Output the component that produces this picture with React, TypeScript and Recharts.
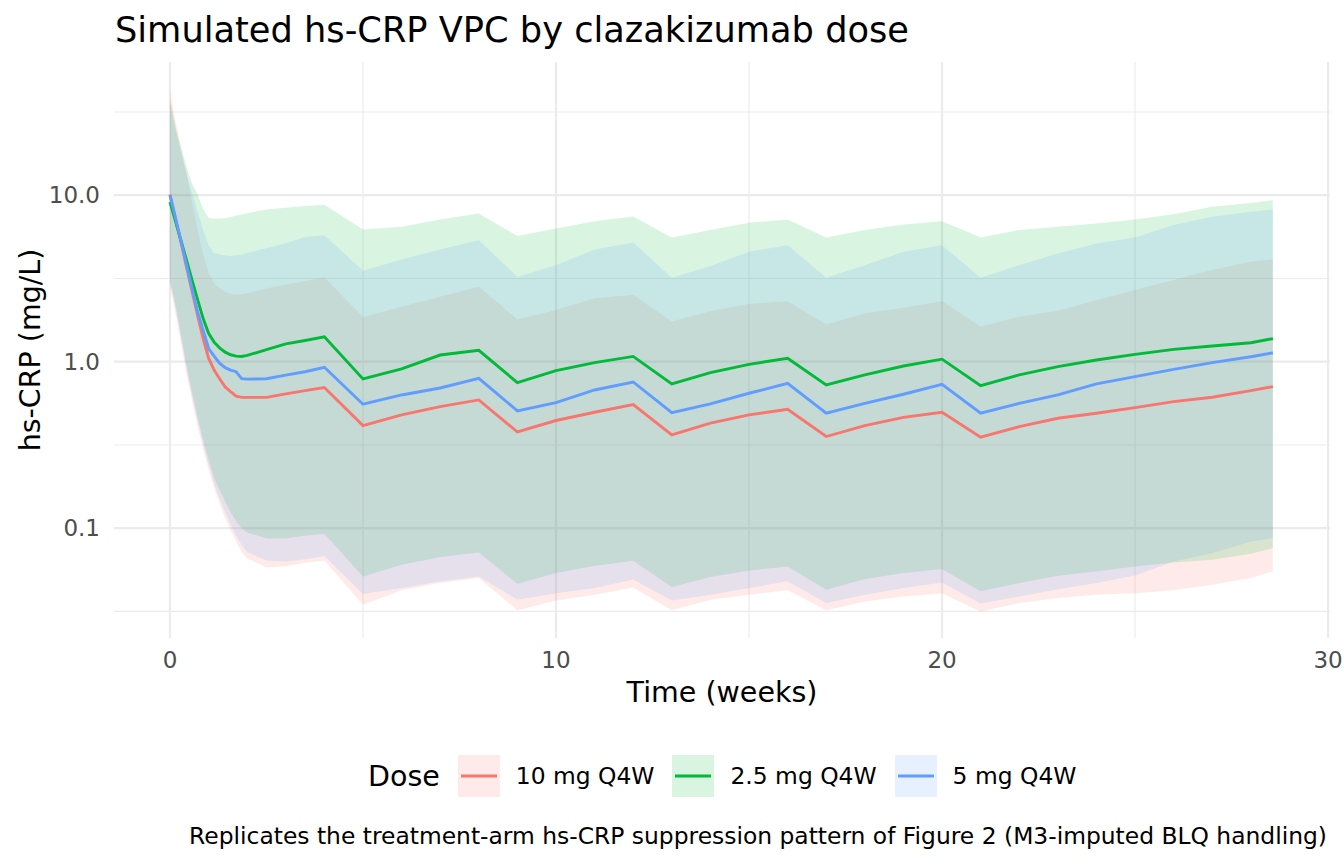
import React from "react";
import { ComposedChart, Area, Line, XAxis, YAxis, CartesianGrid } from "recharts";

// time in weeks (daily for the first two weeks, then half-weekly, then weekly)
const WEEKS = [
  0, 0.143, 0.286, 0.429, 0.571, 0.714, 0.857, 1.0, 1.143, 1.286, 1.429, 1.571, 1.714, 1.857, 2.0,
  2.5, 3.0, 3.5, 4,
  5, 6, 7, 8, 9, 10, 11, 12, 13, 14, 15, 16, 17, 18, 19, 20, 21, 22, 23, 24, 25, 26, 27, 28, 28.57,
];

const DOSE_LABELS = ["10 mg Q4W", "2.5 mg Q4W", "5 mg Q4W"];
const DOSE_COLORS = ["#F8766D", "#00BA38", "#619CFF"];

// 10 mg Q4W
const MEDIAN_10 = [
  10.1, 7.2, 5.2, 3.7, 2.65, 1.9, 1.38, 1.05, 0.89, 0.79, 0.705, 0.66, 0.62, 0.61, 0.61, 0.61, 0.64, 0.67, 0.7,
  0.413, 0.479, 0.537, 0.589, 0.378, 0.443, 0.497, 0.553,
  0.363, 0.427, 0.479, 0.518, 0.355, 0.413, 0.463, 0.496,
  0.352, 0.407, 0.457, 0.49, 0.53, 0.575, 0.611, 0.67, 0.708,
];
const LOWER_10 = [
  2.85, 1.95, 1.28, 0.84, 0.58, 0.41, 0.3, 0.225, 0.175, 0.14, 0.115, 0.097, 0.083, 0.072, 0.066, 0.058, 0.059, 0.062, 0.064,
  0.0347, 0.0423, 0.0468, 0.0501, 0.0321, 0.0368, 0.0398, 0.044,
  0.0321, 0.0372, 0.0398, 0.0423, 0.0321, 0.0363, 0.0389, 0.0407,
  0.0316, 0.0355, 0.038, 0.0398, 0.0407, 0.0423, 0.0457, 0.0501, 0.055,
];
const UPPER_10 = [
  42.8, 28, 19, 13.5, 9, 6.2, 4.4, 3.4, 2.95, 2.75, 2.62, 2.55, 2.52, 2.54, 2.58, 2.75, 2.9, 3.05, 3.21,
  1.85, 2.14, 2.45, 2.82, 1.79, 2.04, 2.4, 2.51,
  1.74, 2.01, 2.22, 2.31, 1.67, 1.95, 2.11, 2.31,
  1.62, 1.86, 2.02, 2.34, 2.69, 3.09, 3.55, 3.98, 4.11,
];

// 2.5 mg Q4W
const MEDIAN_25 = [
  9.1, 6.97, 5.33, 4.07, 3.1, 2.37, 1.82, 1.48, 1.31, 1.21, 1.14, 1.1, 1.08, 1.075, 1.09, 1.18, 1.28, 1.34, 1.41,
  0.787, 0.904, 1.096, 1.17, 0.748, 0.883, 0.986, 1.075,
  0.735, 0.859, 0.964, 1.047, 0.724, 0.832, 0.942, 1.035,
  0.718, 0.832, 0.933, 1.023, 1.107, 1.186, 1.242, 1.3, 1.374,
];
const LOWER_25 = [
  3.1, 2.2, 1.45, 0.95, 0.66, 0.47, 0.34, 0.26, 0.2, 0.17, 0.145, 0.125, 0.11, 0.1, 0.094, 0.087, 0.087, 0.09, 0.0925,
  0.0513, 0.0603, 0.067, 0.0714, 0.0463, 0.0537, 0.0594, 0.0638,
  0.0443, 0.0508, 0.0557, 0.0589, 0.0427, 0.0494, 0.0537, 0.0568,
  0.0417, 0.0468, 0.0518, 0.055, 0.0589, 0.0622, 0.0646, 0.0702, 0.0759,
];
const UPPER_25 = [
  37.5, 26, 19.5, 14.8, 11.8, 10.1, 8.3, 7.3, 7.25, 7.25, 7.3, 7.4, 7.55, 7.65, 7.8, 8.2, 8.4, 8.6, 8.75,
  6.22, 6.46, 7.14, 7.76, 5.68, 6.31, 6.98, 7.45,
  5.57, 6.17, 6.82, 7.14, 5.57, 6.17, 6.67, 6.98,
  5.57, 6.17, 6.46, 6.76, 7.14, 7.69, 8.51, 8.99, 9.33,
];

// 5 mg Q4W
const MEDIAN_5 = [
  10.0, 7.3, 5.3, 3.8, 2.75, 2.0, 1.55, 1.2, 1.08, 0.98, 0.92, 0.89, 0.87, 0.79, 0.785, 0.79, 0.83, 0.87, 0.925,
  0.555, 0.631, 0.695, 0.794, 0.506, 0.568, 0.676, 0.755,
  0.494, 0.557, 0.646, 0.741, 0.49, 0.562, 0.637, 0.731,
  0.49, 0.562, 0.631, 0.735, 0.813, 0.899, 0.986, 1.07, 1.13,
];
const LOWER_5 = [
  3.0, 2.1, 1.38, 0.9, 0.62, 0.44, 0.32, 0.24, 0.185, 0.15, 0.125, 0.105, 0.09, 0.079, 0.072, 0.064, 0.063, 0.065, 0.068,
  0.0402, 0.0437, 0.0479, 0.0513, 0.0372, 0.0407, 0.0437, 0.0492,
  0.0368, 0.0398, 0.0437, 0.0479, 0.0355, 0.0398, 0.0437, 0.0472,
  0.0352, 0.0389, 0.043, 0.0468, 0.052, 0.063, 0.071, 0.083, 0.0871,
];
const UPPER_5 = [
  35, 24.5, 18, 13.5, 10.3, 8, 6.2, 5.0, 4.5, 4.4, 4.35, 4.3, 4.35, 4.4, 4.5, 4.8, 5.15, 5.6, 5.75,
  3.52, 4.11, 4.72, 5.37, 3.24, 3.8, 4.72, 5.2,
  3.19, 3.75, 4.57, 5.01, 3.19, 3.8, 4.57, 5.01,
  3.19, 3.8, 4.47, 5.13, 5.57, 6.61, 7.41, 7.94, 8.2,
];

const X_TICKS = [0, 10, 20, 30];
const X_MINOR = [5, 15, 25];
const Y_TICKS = [0.1, 1, 10];
const Y_MINOR = [0.0316, 0.316, 3.16, 31.6];

const FONT = '"DejaVu Sans", sans-serif';

const series = [
  { id: "d10", label: DOSE_LABELS[0], color: DOSE_COLORS[0], median: MEDIAN_10, lower: LOWER_10, upper: UPPER_10 },
  { id: "d25", label: DOSE_LABELS[1], color: DOSE_COLORS[1], median: MEDIAN_25, lower: LOWER_25, upper: UPPER_25 },
  { id: "d5", label: DOSE_LABELS[2], color: DOSE_COLORS[2], median: MEDIAN_5, lower: LOWER_5, upper: UPPER_5 },
];

const rows = WEEKS.map((t, i) => {
  const row: Record<string, number | number[]> = { t };
  series.forEach((s) => {
    row[s.id] = s.median[i];
    row[s.id + "_band"] = [s.lower[i], s.upper[i]];
  });
  return row;
});

const tickStyle = { fill: "#4D4D4D", fontSize: 23, fontFamily: FONT };

function DoseLegend() {
  return (
    <div
      style={{
        position: "absolute",
        left: 368,
        top: 755,
        height: 42,
        display: "flex",
        alignItems: "center",
        fontFamily: FONT,
        color: "#000",
      }}
    >
      <span style={{ fontSize: 28.5, marginRight: 18 }}>Dose</span>
      {series.map((s) => (
        <div key={s.id} style={{ display: "flex", alignItems: "center", marginRight: 18 }}>
          <svg width={42} height={42} style={{ marginRight: 16 }}>
            <rect x={0} y={0} width={42} height={42} fill={s.color} fillOpacity={0.15} />
            <line x1={3} x2={39} y1={21} y2={21} stroke={s.color} strokeWidth={3} />
          </svg>
          <span style={{ fontSize: 23.4 }}>{s.label}</span>
        </div>
      ))}
    </div>
  );
}

export default function App() {
  return (
    <div
      style={{
        position: "absolute",
        left: 0,
        top: 0,
        width: 1344,
        height: 864,
        background: "#fff",
        fontFamily: FONT,
      }}
    >
      <ComposedChart width={1344} height={864} data={rows} margin={{ top: 62, right: 14, bottom: 186, left: 54 }}>
        <CartesianGrid
          stroke="#EBEBEB"
          strokeWidth={1.1}
          horizontalValues={Y_MINOR}
          verticalValues={X_MINOR}
          syncWithTicks
        />
        <CartesianGrid stroke="#EBEBEB" strokeWidth={2.2} syncWithTicks />
        <XAxis
          dataKey="t"
          type="number"
          domain={[-1.45, 30.05]}
          allowDataOverflow
          ticks={X_TICKS}
          interval={0}
          axisLine={false}
          tickLine={false}
          tickSize={0}
          tickMargin={14}
          height={40}
          tick={tickStyle}
        />
        <YAxis
          type="number"
          scale="log"
          domain={[0.02188, 63.1]}
          allowDataOverflow
          ticks={Y_TICKS}
          interval={0}
          tickFormatter={(v: number) => v.toFixed(1)}
          axisLine={false}
          tickLine={false}
          tickSize={0}
          tickMargin={14}
          width={60}
          tick={tickStyle}
        />
        {series.map((s) => (
          <Area
            key={s.id + "_band"}
            dataKey={s.id + "_band"}
            type="linear"
            stroke="none"
            fill={s.color}
            fillOpacity={0.15}
            isAnimationActive={false}
            activeDot={false}
          />
        ))}
        {series.map((s) => (
          <Line
            key={s.id}
            dataKey={s.id}
            type="linear"
            stroke={s.color}
            strokeWidth={2.9}
            dot={false}
            activeDot={false}
            isAnimationActive={false}
          />
        ))}
      </ComposedChart>

      <svg
        width={1344}
        height={864}
        style={{ position: "absolute", left: 0, top: 0, pointerEvents: "none", fontFamily: FONT }}
      >
        <text x={115} y={42} fontSize={35.2} fill="#000">
          Simulated hs-CRP VPC by clazakizumab dose
        </text>
        <text x={722} y={702} fontSize={28.5} fill="#000" textAnchor="middle">
          Time (weeks)
        </text>
        <text transform="translate(40,350) rotate(-90)" fontSize={28.5} fill="#000" textAnchor="middle">
          hs-CRP (mg/L)
        </text>
        <text x={1327} y={844} fontSize={23.4} fill="#000" textAnchor="end">
          Replicates the treatment-arm hs-CRP suppression pattern of Figure 2 (M3-imputed BLQ handling)
        </text>
      </svg>

      <DoseLegend />
    </div>
  );
}
